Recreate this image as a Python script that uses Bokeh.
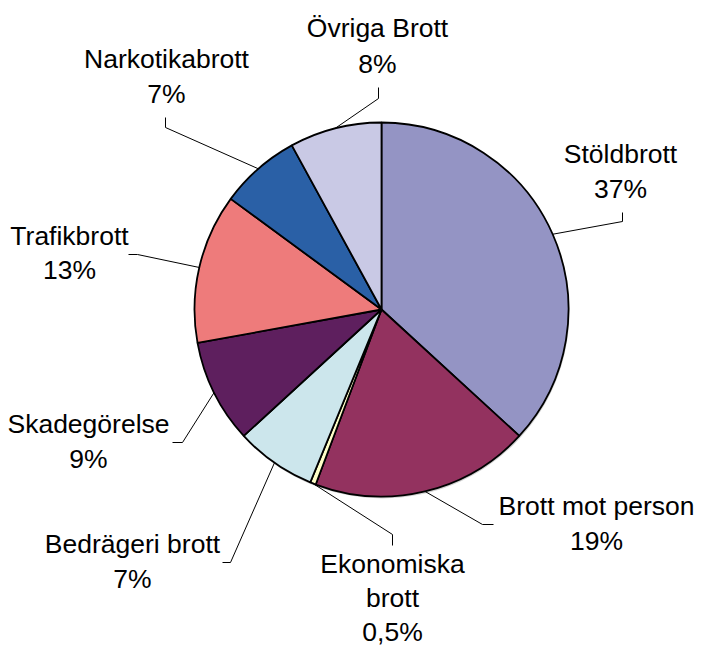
import math
from bokeh.plotting import figure
from bokeh.models import Range1d, ColumnDataSource
from bokeh.core.properties import value
from bokeh.embed import file_html
from bokeh.resources import INLINE

# ---- data ----
categories = ["Stöldbrott", "Brott mot person", "Ekonomiska brott", "Bedrägeri brott",
              "Skadegörelse", "Trafikbrott", "Narkotikabrott", "Övriga Brott"]
values = [37, 19, 0.5, 7, 9, 13, 7, 8]
pct_labels = ["37%", "19%", "0,5%", "7%", "9%", "13%", "7%", "8%"]
label_names = ["Stöldbrott", "Brott mot person", "Ekonomiska\nbrott", "Bedrägeri brott",
               "Skadegörelse", "Trafikbrott", "Narkotikabrott", "Övriga Brott"]
colors = ["#9494C4", "#93325F", "#FFFFC8", "#CCE6EC",
          "#5E1F5E", "#EE7B7B", "#2A60A6", "#C9C9E5"]

# ---- layout (page pixel coordinates) ----
W, H = 701, 648
def X(px): return px
def Y(py): return H - py

CX, CY, R = X(381), Y(309), 187
# first-line centre of each label
label_pos = [(620, 153), (596, 505), (392, 563), (132, 543),
             (88, 423), (69, 235), (166, 58), (377, 27)]
line_h = [35, 35, 34, 35, 35, 34, 35, 36]
# leader elbow and end points
elbows = [(622, 221), (482, 524), (392, 534), (230, 562),
          (182, 442), (137, 254), (165, 127), (378, 98)]
ends = [(622, 212), (493, 524), (392, 545), (222, 562),
        (172, 442), (128, 254), (165, 117), (378, 87)]

total = sum(values)
starts, stops, mids = [], [], []
cum = 0.0
for v in values:
    a0 = math.pi / 2 - 2 * math.pi * cum / total
    cum += v
    a1 = math.pi / 2 - 2 * math.pi * cum / total
    starts.append(a0)
    stops.append(a1)
    mids.append((a0 + a1) / 2)

p = figure(width=W, height=H, x_range=Range1d(0, W), y_range=Range1d(0, H),
           output_backend="svg", toolbar_location=None, min_border=0)
p.axis.visible = False
p.grid.visible = False
p.outline_line_color = None
p.background_fill_color = "white"
p.border_fill_color = "white"

# subtle shadow
p.circle(x=[CX + 1], y=[CY - 2], radius=R, fill_color="#000000", fill_alpha=0.18,
         line_color=None)

src = ColumnDataSource(dict(start=starts, end=stops, color=colors, cat=categories))
p.wedge(x=CX, y=CY, radius=R, start_angle="start", end_angle="end",
        direction="clock", fill_color="color", line_color="black", line_width=1.8,
        source=src)

# leader lines
xs, ys = [], []
for m, e, t in zip(mids, elbows, ends):
    sx = CX + R * math.cos(m)
    sy = CY + R * math.sin(m)
    xs.append([sx, X(e[0]), X(t[0])])
    ys.append([sy, Y(e[1]), Y(t[1])])
p.multi_line(xs=xs, ys=ys, line_color="black", line_width=1)

# labels
tx, ty, tt = [], [], []
for name, pct, (lx, ly), lh in zip(label_names, pct_labels, label_pos, line_h):
    lines = name.split("\n") + [pct]
    for i, line in enumerate(lines):
        tx.append(X(lx))
        ty.append(Y(ly + i * lh))
        tt.append(line)
p.text(x=tx, y=ty, text=tt, text_align="center", text_baseline="middle",
       text_font=value("Liberation Sans"), text_font_size="26.5px", text_color="black")

open("out.html", "w").write(file_html(p, INLINE))
